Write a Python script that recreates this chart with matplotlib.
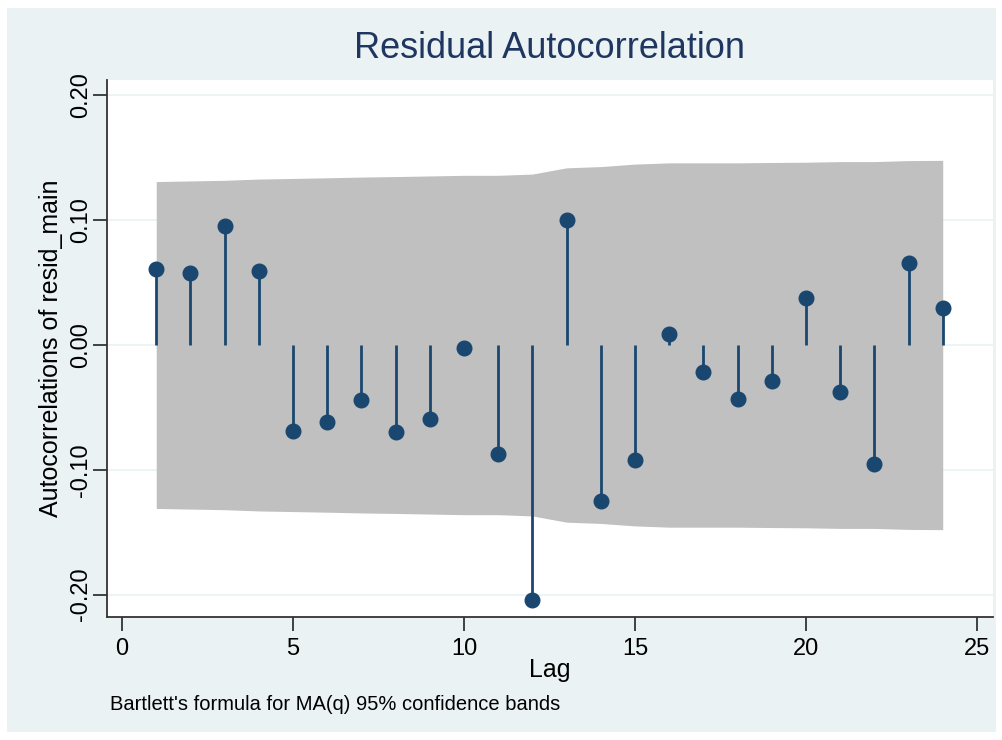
import matplotlib
matplotlib.use("Agg")
import matplotlib.pyplot as plt
from matplotlib.patches import Rectangle

plt.rcParams['font.family'] = ['Liberation Sans', 'DejaVu Sans']

lags = list(range(1, 25))
acf = [0.061, 0.058, 0.095, 0.059, -0.069, -0.062, -0.044, -0.070, -0.059, -0.002,
       -0.087, -0.204, 0.100, -0.125, -0.092, 0.009, -0.022, -0.043, -0.029, 0.038,
       -0.038, -0.095, 0.066, 0.030]
band = [0.131, 0.1315, 0.132, 0.133, 0.1335, 0.134, 0.1346, 0.135, 0.1355, 0.136,
        0.136, 0.137, 0.142, 0.143, 0.145, 0.146, 0.146, 0.146, 0.1463, 0.1465,
        0.147, 0.147, 0.1478, 0.148]
yticks = [-0.20, -0.10, 0.00, 0.10, 0.20]
xticks = [0, 5, 10, 15, 20, 25]

navy = '#1a476f'
title_col = '#1f3660'
bg = '#eaf2f3'

fig = plt.figure(figsize=(10.03, 7.40), dpi=100)
fig.patch.set_facecolor('white')
fig.add_artist(Rectangle((7/1003, 8/740), 1 - 14/1003, 1 - 16/740,
                         transform=fig.transFigure, facecolor=bg, edgecolor='none', zorder=-10))

ax = fig.add_axes([107/1003, 1 - 617/740, (993 - 107)/1003, (617 - 80)/740])
ax.set_facecolor('white')

for yv in yticks:
    ax.axhline(yv, color=bg, lw=1.2, zorder=0)

ax.fill_between(lags, [-b for b in band], band, color='#c0c0c0', lw=0, zorder=1)
ax.vlines(lags, 0, acf, color=navy, lw=2, zorder=2)
ax.plot(lags, acf, 'o', color=navy, ms=10.5, zorder=3)

ax.set_xlim(-0.44, 25.47)
ax.set_ylim(-0.218, 0.2124)
ax.set_xticks(xticks)
ax.set_yticks(yticks)
ax.set_yticklabels([f"{v:.2f}" for v in yticks], rotation=90, va='center')
ax.tick_params(axis='both', direction='out', length=10, width=1.3, colors='#333333',
               labelsize=17, labelcolor='black')
ax.tick_params(axis='y', pad=1)
ax.tick_params(axis='x', pad=5)

for s in ['top', 'right']:
    ax.spines[s].set_visible(False)
for s in ['left', 'bottom']:
    ax.spines[s].set_color('#333333')
    ax.spines[s].set_linewidth(1.3)

ax.set_xlabel('Lag', fontsize=18, labelpad=-1)
ax.set_ylabel('Autocorrelations of resid_main', fontsize=18, labelpad=5)

fig.text(550/1003, 1 - 58.5/740, 'Residual Autocorrelation', fontsize=26, color=title_col,
         ha='center', va='baseline')
fig.text(110/1003, 1 - 710/740, "Bartlett's formula for MA(q) 95% confidence bands",
         fontsize=14.5, ha='left', va='baseline')

fig.savefig('out.png', dpi=100, facecolor=fig.get_facecolor())
